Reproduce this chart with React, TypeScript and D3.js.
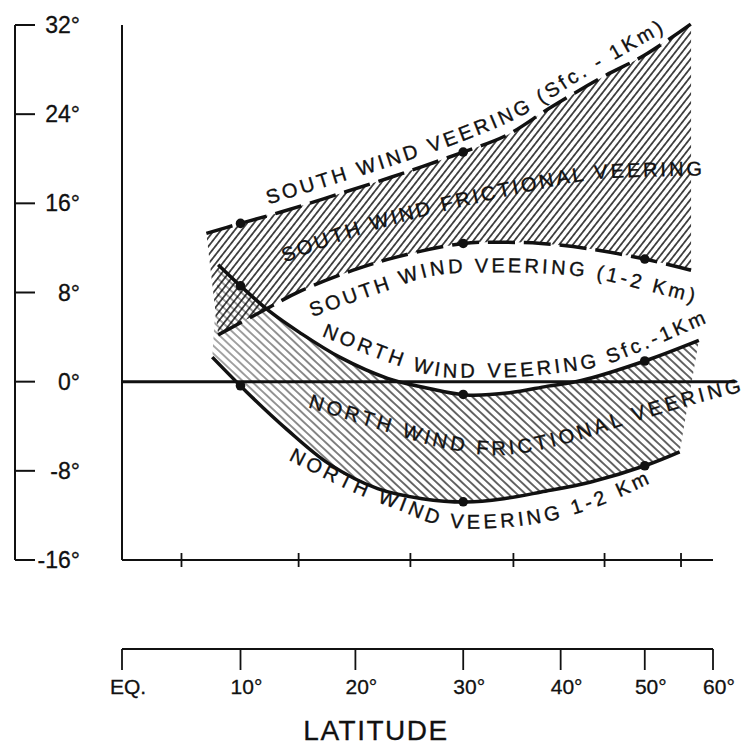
import React from 'react';
import * as d3 from 'd3';

// ---- axis tick data ----
const latTicks = [0, 10, 20, 30, 40, 50, 60];
const latTickLabels = ['EQ.', '10°', '20°', '30°', '40°', '50°', '60°'];
const frameTicks = [5, 15, 25, 35, 45, 55];
const degTicks = [32, 24, 16, 8, 0, -8, -16];
const degTickLabels = ['32°', '24°', '16°', '8°', '0°', '-8°', '-16°'];

// ---- curves (latitude, veering degrees) ----
const southSfcLat = [7.1, 10, 13.4, 18.4, 24, 30, 34.3, 38.9, 44.7, 50, 56.5];
const southSfcVal = [13.3, 14.2, 15.2, 16.8, 18.6, 20.6, 22.1, 24.6, 27.3, 29.3, 32.1];
const southSfcDots = [10, 30];

const southUpLat = [8.1, 11.8, 15.1, 19.8, 23.8, 30, 34.3, 37.9, 43.4, 50, 56.5];
const southUpVal = [4.2, 6.3, 8.1, 10.0, 11.2, 12.4, 12.5, 12.4, 11.9, 11.0, 10.0];
const southUpDots = [30, 50];

const northSfcLat = [8.1, 10.2, 12.5, 15.1, 18.6, 22.9, 26.2, 30.3, 34.6, 38.6, 42.3, 50.2, 57.7];
const northSfcVal = [10.5, 8.4, 6.3, 4.4, 2.2, 0.3, -0.5, -1.2, -1.0, -0.4, 0.1, 1.9, 3.7];
const northSfcDots = [10, 30, 50];

const northUpLat = [7.6, 10.5, 14, 17.7, 22, 26.1, 30.3, 34, 37.9, 43.4, 50.2, 54.8];
const northUpVal = [2.2, -0.9, -4.3, -7.4, -9.6, -10.5, -10.8, -10.5, -9.9, -9.0, -7.5, -6.3];
const northUpDots = [10, 30, 50];

// ---- curve labels and their baselines (latitude, degrees) ----
const labelTexts = [
  'SOUTH WIND VEERING (Sfc. - 1Km)',
  'SOUTH WIND FRICTIONAL VEERING',
  'SOUTH WIND VEERING (1-2 Km)',
  'NORTH WIND VEERING Sfc.-1Km',
  'NORTH WIND FRICTIONAL VEERING',
  'NORTH WIND VEERING 1-2 Km',
];
const labelLats = [
  [12.4, 18, 24, 30, 36, 42, 47, 52.6],
  [13.8, 20.4, 27.3, 35.7, 43.3, 50.7, 58.2],
  [16.2, 22.6, 27.1, 32.1, 37.2, 43.5, 50.0, 56.8],
  [17.0, 24.0, 27.8, 31.9, 35.0, 39.9, 44.5, 49.4, 59.0],
  [15.8, 22.2, 27.8, 33.4, 39.9, 47.7, 56.3, 65.3],
  [14.1, 20.0, 24.0, 28.2, 33.6, 38.8, 44.5, 50.7],
];
const labelVals = [
  [15.9, 17.7, 19.6, 21.6, 23.9, 27.0, 29.2, 31.4],
  [10.7, 13.2, 15.1, 16.9, 18.1, 18.4, 18.5],
  [5.8, 8.1, 9.5, 9.8, 9.75, 9.3, 8.2, 7.1],
  [4.1, 1.4, 0.45, 0.4, 0.4, 0.8, 1.4, 2.7, 5.3],
  [-2.3, -4.3, -5.9, -6.6, -5.7, -3.8, -2.1, -0.9],
  [-7.0, -10.0, -11.55, -13.0, -13.1, -12.5, -11.1, -9.1],
];

const W = 746;
const H = 745;
const FONT = '"Liberation Sans", Arial, "DejaVu Sans", sans-serif';
const INK = '#111';

const rad = (d: number) => (d * Math.PI) / 180;
const sinScale = d3.scaleLinear().domain([0, Math.sin(rad(60))]).range([122, 713]);
const x = (lat: number) => sinScale(Math.sin(rad(lat)));
const y = d3.scaleLinear().domain([-16, 32]).range([560, 25]);

type Pt = [number, number];
const zip = (a: number[], b: number[]): Pt[] => a.map((v, i) => [v, b[i]]);
const interp = (lats: number[], vals: number[]) => d3.scaleLinear().domain(lats).range(vals);

const line = d3
  .line<Pt>()
  .x((d) => x(d[0]))
  .y((d) => y(d[1]))
  .curve(d3.curveCatmullRom.alpha(0.5));

const polyLen = (pts: Pt[]) => {
  let s = 0;
  for (let i = 1; i < pts.length; i++) {
    s += Math.hypot(x(pts[i][0]) - x(pts[i - 1][0]), y(pts[i][1]) - y(pts[i - 1][1]));
  }
  return s;
};

export default function App() {
  const sSfc = zip(southSfcLat, southSfcVal);
  const sUp = zip(southUpLat, southUpVal);
  const nSfc = zip(northSfcLat, northSfcVal);
  const nUp = zip(northUpLat, northUpVal);

  const region = (a: Pt[], b: Pt[]) =>
    (line(a) as string) + (line([...b].reverse()) as string).replace(/^M/, 'L') + 'Z';

  const series = [
    { pts: sSfc, dots: southSfcDots, lats: southSfcLat, vals: southSfcVal, dashed: true },
    { pts: sUp, dots: southUpDots, lats: southUpLat, vals: southUpVal, dashed: true },
    { pts: nSfc, dots: northSfcDots, lats: northSfcLat, vals: northSfcVal, dashed: false },
    { pts: nUp, dots: northUpDots, lats: northUpLat, vals: northUpVal, dashed: false },
  ];

  const labels = labelTexts.map((t, i) => {
    const pts = zip(labelLats[i], labelVals[i]);
    return { text: t, d: line(pts) as string, len: polyLen(pts) };
  });

  const axisX = 15;

  return (
    <svg
      width={W}
      height={H}
      viewBox={`0 0 ${W} ${H}`}
      style={{ position: 'absolute', left: 0, top: 0, background: '#fff' }}
    >
      <defs>
        <pattern id="hatchS" width="5.4" height="10" patternUnits="userSpaceOnUse" patternTransform="rotate(38)">
          <line x1="2.7" y1="-2" x2="2.7" y2="12" stroke="#000" strokeWidth="1.35" />
        </pattern>
        <pattern id="hatchN" width="5.8" height="10" patternUnits="userSpaceOnUse" patternTransform="rotate(-47)">
          <line x1="2.9" y1="-2" x2="2.9" y2="12" stroke="#000" strokeWidth="1.2" />
        </pattern>
        <linearGradient id="fadeN" gradientUnits="userSpaceOnUse" x1={x(7)} y1="0" x2={x(26)} y2="0">
          <stop offset="0" stopColor="#fff" stopOpacity="0.55" />
          <stop offset="1" stopColor="#fff" stopOpacity="1" />
        </linearGradient>
        <mask id="maskN" maskUnits="userSpaceOnUse" x="0" y="0" width={W} height={H}>
          <rect x="0" y="0" width={W} height={H} fill="url(#fadeN)" />
        </mask>
        {labels.map((l, i) => (
          <path key={i} id={`lbl${i}`} d={l.d} fill="none" />
        ))}
      </defs>

      {/* hatched regions */}
      <path d={region(sSfc, sUp)} fill="url(#hatchS)" stroke="none" />
      <path d={region(nSfc, nUp)} fill="url(#hatchN)" stroke="none" mask="url(#maskN)" />

      {/* left degree scale */}
      <line x1={axisX} x2={axisX} y1={y(32)} y2={y(-16)} stroke={INK} strokeWidth={2} />
      {degTicks.map((t, i) => (
        <g key={t}>
          <line x1={axisX} x2={axisX + 20} y1={y(t)} y2={y(t)} stroke={INK} strokeWidth={2} />
          <text
            x={80}
            y={y(t) + 8}
            textAnchor="end"
            fontFamily={FONT}
            fontSize={23}
            fill={INK}
            stroke={INK}
            strokeWidth={0.3}
          >
            {degTickLabels[i]}
          </text>
        </g>
      ))}

      {/* frame */}
      <line x1={x(0)} x2={x(0)} y1={y(32)} y2={y(-16)} stroke={INK} strokeWidth={2} />
      <line x1={x(0)} x2={x(60)} y1={y(-16)} y2={y(-16)} stroke={INK} strokeWidth={2} />
      {frameTicks.map((t) => (
        <line key={t} x1={x(t)} x2={x(t)} y1={y(-16) - 7} y2={y(-16) + 7} stroke={INK} strokeWidth={1.8} />
      ))}

      {/* zero line */}
      <line x1={x(0)} x2={x(64)} y1={y(0)} y2={y(0)} stroke={INK} strokeWidth={3} />

      {/* curves */}
      {series.map((s, i) => {
        const f = interp(s.lats, s.vals);
        return (
          <g key={i}>
            <path
              d={line(s.pts) as string}
              fill="none"
              stroke={INK}
              strokeWidth={3.5}
              strokeDasharray={s.dashed ? '27 9' : undefined}
              strokeLinecap="butt"
            />
            {s.dots.map((lat) => (
              <circle key={lat} cx={x(lat)} cy={y(f(lat))} r={4.8} fill={INK} />
            ))}
          </g>
        );
      })}

      {/* curve labels */}
      {labels.map((l, i) => (
        <text key={i} fontFamily={FONT} fontSize={20} fill={INK} stroke={INK} strokeWidth={0.35}>
          <textPath href={`#lbl${i}`} startOffset="0" textLength={l.len} lengthAdjust="spacing">
            {l.text}
          </textPath>
        </text>
      ))}

      {/* latitude scale */}
      <line x1={x(0)} x2={x(60)} y1={649} y2={649} stroke={INK} strokeWidth={2} />
      {latTicks.map((t, i) => (
        <g key={t}>
          <line x1={x(t)} x2={x(t)} y1={649} y2={670} stroke={INK} strokeWidth={1.8} />
          <text
            x={x(t) + 6}
            y={694}
            textAnchor="middle"
            fontFamily={FONT}
            fontSize={21}
            fill={INK}
            stroke={INK}
            strokeWidth={0.3}
          >
            {latTickLabels[i]}
          </text>
        </g>
      ))}
      <text
        x={376}
        y={740}
        textAnchor="middle"
        fontFamily={FONT}
        fontSize={28}
        letterSpacing={1.5}
        fill={INK}
        stroke={INK}
        strokeWidth={0.3}
      >
        LATITUDE
      </text>
    </svg>
  );
}
